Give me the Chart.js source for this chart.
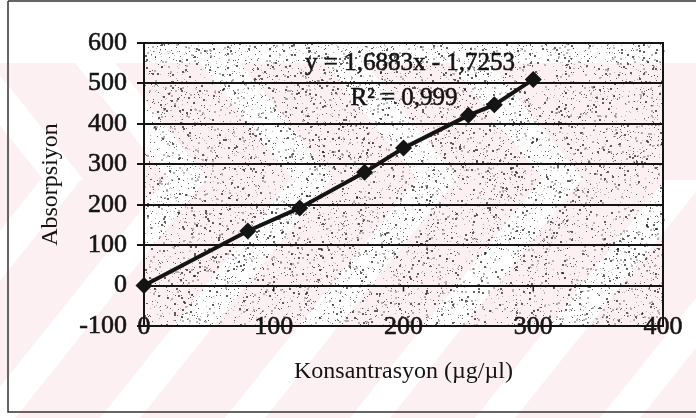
<!DOCTYPE html>
<html>
<head>
<meta charset="utf-8">
<script src="https://cdn.jsdelivr.net/npm/chart.js@4/dist/chart.umd.min.js"></script>
<style>
  html, body { margin: 0; padding: 0; background: #fff; }
  #wrap { width: 696px; height: 418px; }
</style>
</head>
<body>
<div id="wrap"><canvas id="c" width="696" height="418"></canvas></div>
<script>
// Calibration points: concentration (µg/µl) vs. absorbance
const concentrations = [0, 80, 120, 170, 200, 250, 270, 300];
const absorbances = [0, 135, 192, 280, 340, 421, 447, 510];
const xTicks = [0, 100, 200, 300, 400];
const yTicks = [-100, 0, 100, 200, 300, 400, 500, 600];
const equationLines = ['y = 1,6883x - 1,7253', 'R² = 0,999'];
const xTitle = 'Konsantrasyon (µg/µl)';
const yTitle = 'Absorpsiyon';

const SERIF = '"Liberation Serif", "DejaVu Serif", serif';
const INK = '#141414';

// Small deterministic generator for the stippled plot background
function lcg(seed) {
  let s = seed >>> 0;
  return () => { s = (s * 1664525 + 1013904223) >>> 0; return s / 4294967296; };
}

const backdrop = {
  id: 'backdrop',
  beforeDraw(chart) {
    const { ctx, width, height, chartArea: a } = chart;
    ctx.save();
    // faint pink diagonal band pattern behind the figure
    ctx.beginPath();
    ctx.rect(0, 63, width, height - 63);
    ctx.clip();
    ctx.fillStyle = '#fdf0f2';
    ctx.fillRect(0, 63, width, height - 63);
    ctx.fillStyle = '#ffffff';
    const k = 0.8, w = 40, period = 125;
    for (let c = -400; c < width + 400; c += period) {
      ctx.beginPath();
      ctx.moveTo(c, height);
      ctx.lineTo(c + w, height);
      ctx.lineTo(c + w + k * (height - 180), 180);
      ctx.lineTo(c + k * (height - 180), 180);
      ctx.closePath();
      ctx.fill();
    }
    for (let c = -300; c < 500; c += period) {
      ctx.beginPath();
      ctx.moveTo(c, 63);
      ctx.lineTo(c + w, 63);
      ctx.lineTo(c + w + k * (180 - 63), 180);
      ctx.lineTo(c + k * (180 - 63), 180);
      ctx.closePath();
      ctx.fill();
    }
    ctx.restore();

    // outer figure frame
    ctx.save();
    ctx.strokeStyle = '#333';
    ctx.lineWidth = 1.5;
    ctx.beginPath();
    ctx.moveTo(8, 1); ctx.lineTo(696, 1);
    ctx.moveTo(8, 1); ctx.lineTo(8, 412);
    ctx.lineTo(696, 412);
    ctx.stroke();
    ctx.restore();

    // stippled plot area
    ctx.save();
    const rnd = lcg(20240611);
    const aw = a.right - a.left, ah = a.bottom - a.top;
    for (let i = 0; i < 9000; i++) {
      const x = a.left + rnd() * aw;
      const y = a.top + rnd() * ah;
      const s = rnd() < 0.25 ? 2 : 1;
      ctx.fillStyle = rnd() < 0.5 ? 'rgba(30,30,30,0.7)' : 'rgba(100,100,100,0.45)';
      ctx.fillRect(Math.round(x), Math.round(y), s, s);
    }
    ctx.restore();
  },
  afterDraw(chart) {
    const { ctx, chartArea: a, scales } = chart;
    ctx.save();
    // plot border
    ctx.strokeStyle = INK;
    ctx.lineWidth = 2;
    ctx.strokeRect(a.left, a.top, a.right - a.left, a.bottom - a.top);
    // short tick marks hanging from the zero line
    const y0 = scales.y.getPixelForValue(0);
    ctx.lineWidth = 1.5;
    ctx.beginPath();
    xTicks.slice(1, -1).forEach(v => {
      const px = scales.x.getPixelForValue(v);
      ctx.moveTo(px, y0); ctx.lineTo(px, y0 + 6);
    });
    ctx.stroke();
    // trendline equation
    ctx.fillStyle = INK;
    ctx.strokeStyle = INK;
    ctx.lineWidth = 0.6;
    ctx.font = '25px ' + SERIF;
    ctx.textAlign = 'center';
    ctx.textBaseline = 'middle';
    [[equationLines[0], 410, 63], [equationLines[1], 404, 98]].forEach(([t, x, y]) => {
      ctx.fillText(t, x, y);
      ctx.strokeText(t, x, y);
    });
    ctx.restore();
  }
};

new Chart(document.getElementById('c'), {
  type: 'scatter',
  data: {
    datasets: [{
      data: concentrations.map((x, i) => ({ x, y: absorbances[i] })),
      showLine: true,
      borderColor: INK,
      borderWidth: 4,
      pointStyle: 'rectRot',
      pointRadius: 8.5,
      pointBackgroundColor: INK,
      pointBorderColor: INK,
      pointBorderWidth: 0,
      clip: false
    }]
  },
  options: {
    responsive: false,
    animation: false,
    devicePixelRatio: 1,
    layout: { padding: { left: 0, right: 33, top: 43, bottom: 0 } },
    plugins: { legend: { display: false }, tooltip: { enabled: false } },
    scales: {
      x: {
        type: 'linear',
        min: xTicks[0], max: xTicks[xTicks.length - 1],
        afterBuildTicks(s) { s.ticks = xTicks.map(v => ({ value: v })); },
        afterFit(s) { s.height = 92; },
        grid: { display: false },
        border: { display: false },
        ticks: { color: INK, font: { family: SERIF, size: 26 }, mirror: true, padding: -17, maxRotation: 0, textStrokeColor: INK, textStrokeWidth: 0.6 },
        title: { display: true, text: xTitle, color: INK, font: { family: SERIF, size: 24 }, padding: { top: 0, bottom: 32 } }
      },
      y: {
        type: 'linear',
        min: yTicks[0], max: yTicks[yTicks.length - 1],
        afterBuildTicks(s) { s.ticks = yTicks.map(v => ({ value: v })); },
        afterFit(s) { s.width = 144; },
        grid: { color: INK, lineWidth: 2, tickLength: 7 },
        border: { display: true, color: INK, width: 2 },
        ticks: { color: INK, font: { family: SERIF, size: 26 }, padding: 10, textStrokeColor: INK, textStrokeWidth: 0.6 },
        title: { display: true, text: yTitle, color: INK, font: { family: SERIF, size: 24 }, padding: { top: 36, bottom: 0 } }
      }
    }
  },
  plugins: [backdrop]
});
</script>
</body>
</html>
